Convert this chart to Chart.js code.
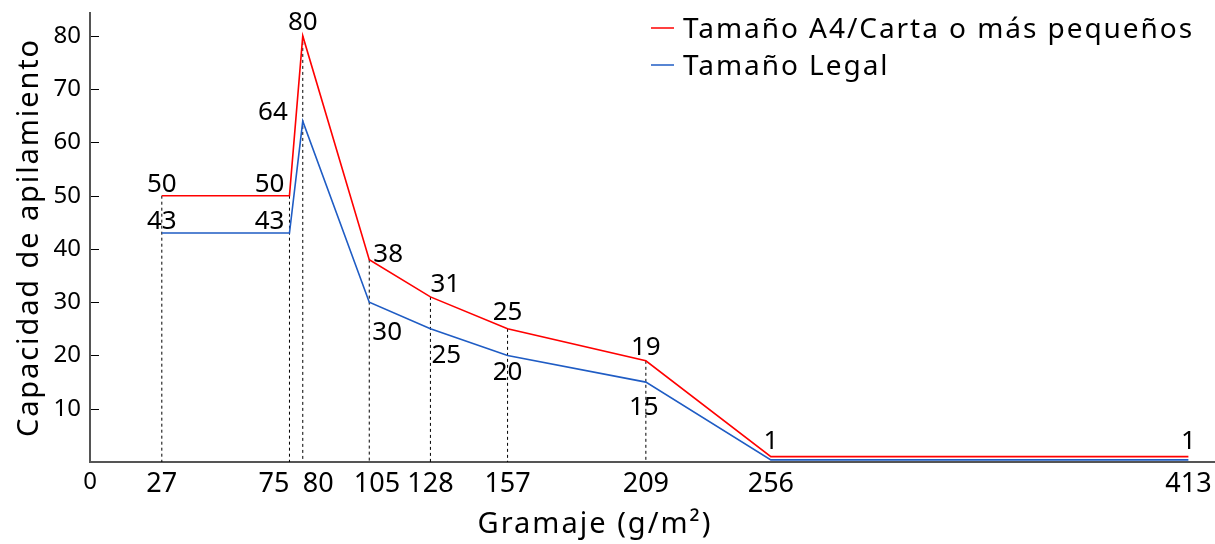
<!DOCTYPE html>
<html>
<head>
<meta charset="utf-8">
<script src="https://cdn.jsdelivr.net/npm/chart.js@4.4.1/dist/chart.umd.min.js"></script>
<style>
  body { margin: 0; background: #fff; }
  #wrap { width: 1215px; height: 544px; }
</style>
</head>
<body>
<div id="wrap"><canvas id="stack-chart" width="1215" height="544"></canvas></div>
<script>
const gramaje = [27, 75, 80, 105, 128, 157, 209, 256, 413];
const a4Carta = [50, 50, 80, 38, 31, 25, 19, 1, 1];
const legal = [43, 43, 64, 30, 25, 20, 15, 0.4, 0.4];
const xTickValues = [0, 27, 75, 80, 105, 128, 157, 209, 256, 413];
const yTickValues = [10, 20, 30, 40, 50, 60, 70, 80];
const seriesNames = ["Tamaño A4/Carta o más pequeños", "Tamaño Legal"];
const dropCount = 7; // dotted guides under the first 7 points

const FONT = "'Noto Sans', sans-serif";
const RED = "#ff0000";
const BLUE = "#1f5cc4";
const FIG = "\u2007";
// crowded x labels get pushed apart (in figure spaces, - = left)
const tickNudge = { 75: -2, 80: 2, 105: 1 };

// value label placement: [dx, dy, align, above/below]
const a4LabelPlace = [
  [0, -4, "center", "above"],
  [-5, -4, "right", "above"],
  [0, -6, "center", "above"],
  [4, 2, "left", "above"],
  [0, -5, "left", "above"],
  [0, -9, "center", "above"],
  [0, -6, "center", "above"],
  [0, -8, "center", "above"],
  [0, -8, "center", "above"],
];
const legalLabelPlace = [
  [0, -4, "center", "above"],
  [-5, -4, "right", "above"],
  [-15, -1, "right", "above"],
  [3, 19, "left", "below"],
  [1, 15, "left", "below"],
  [0, 6, "center", "below"],
  [-2, 14, "center", "below"],
  null,
  null,
];

const toPoints = (ys) => gramaje.map((x, i) => ({ x: x, y: ys[i] }));

const dropSets = gramaje.slice(0, dropCount).map((x, i) => ({
  label: "",
  data: [{ x: x, y: a4Carta[i] }, { x: x, y: 0 }],
  borderColor: "#000",
  borderWidth: 1,
  borderDash: [3, 3],
  pointRadius: 0,
  order: 5,
}));

const pointLabels = {
  id: "pointLabels",
  afterDatasetsDraw(chart) {
    const ctx = chart.ctx;
    ctx.save();
    ctx.font = "26px " + FONT;
    ctx.fillStyle = "#000";
    ctx.textBaseline = "alphabetic";
    [[0, a4LabelPlace], [1, legalLabelPlace]].forEach(([di, places]) => {
      const meta = chart.getDatasetMeta(di);
      const data = chart.data.datasets[di].data;
      meta.data.forEach((pt, i) => {
        const p = places[i];
        if (!p) return;
        ctx.textAlign = p[2];
        let y = pt.y + p[1];
        if (p[3] === "below") y += 19;
        ctx.fillText(String(data[i].y), pt.x + p[0], y);
      });
    });

    // inward tick marks on the y axis
    const ys = chart.scales.y;
    ctx.strokeStyle = "#000";
    ctx.lineWidth = 1;
    yTickValues.forEach((v) => {
      const py = Math.round(ys.getPixelForValue(v)) + 0.5;
      ctx.beginPath();
      ctx.moveTo(ys.right + 1, py);
      ctx.lineTo(ys.right + 9, py);
      ctx.stroke();
    });
    ctx.restore();
  },
  afterDraw(chart) {
    const ctx = chart.ctx;
    const area = chart.chartArea;
    ctx.save();
    ctx.fillStyle = "#000";
    ctx.textBaseline = "alphabetic";
    // legend, top right
    const lx = 651;
    [RED, BLUE].forEach((c, i) => {
      const base = 38 + i * 37;
      ctx.strokeStyle = c;
      ctx.lineWidth = 1.5;
      ctx.beginPath();
      ctx.moveTo(lx, base - 10);
      ctx.lineTo(lx + 23, base - 10);
      ctx.stroke();
      ctx.font = "28px " + FONT;
      ctx.letterSpacing = "1.95px";
      ctx.textAlign = "left";
      ctx.fillText(seriesNames[i], lx + 32, base);
    });
    // x axis title
    ctx.font = "29px " + FONT;
    ctx.letterSpacing = "2px";
    ctx.textAlign = "center";
    ctx.fillText("Gramaje (g/m²)", 595, 533);
    // y axis title
    ctx.translate(38, (area.top + area.bottom) / 2);
    ctx.rotate(-Math.PI / 2);
    ctx.letterSpacing = "1.9px";
    ctx.fillText("Capacidad de apilamiento", 0, 0);
    ctx.restore();
  },
};

new Chart(document.getElementById("stack-chart").getContext("2d"), {
  type: "line",
  data: {
    datasets: [
      {
        label: seriesNames[0],
        data: toPoints(a4Carta),
        borderColor: RED,
        borderWidth: 1.6,
        pointRadius: 0,
        order: 0,
      },
      {
        label: seriesNames[1],
        data: toPoints(legal),
        borderColor: BLUE,
        borderWidth: 1.6,
        pointRadius: 0,
        order: 1,
      },
      ...dropSets,
    ],
  },
  options: {
    responsive: false,
    animation: false,
    devicePixelRatio: 1,
    layout: { padding: { top: 13, right: 0, left: 0, bottom: 0 } },
    plugins: {
      legend: { display: false },
      tooltip: { enabled: false },
    },
    scales: {
      x: {
        type: "linear",
        min: 0,
        max: 423,
        afterBuildTicks: (axis) => {
          axis.ticks = xTickValues.map((v) => ({ value: v }));
        },
        afterFit: (axis) => {
          axis.height = 82;
          axis.paddingLeft = 0;
          axis.paddingRight = 0;
        },
        grid: { display: false, drawTicks: false },
        border: { display: true, color: "#555", width: 2 },
        ticks: {
          color: "#000",
          padding: 6,
          autoSkip: false,
          maxRotation: 0,
          font: (c) => ({ family: FONT, size: c.tick && c.tick.value === 0 ? 24 : 27 }),
          callback: (v) => {
            const n = tickNudge[v] || 0;
            const pad = FIG.repeat(Math.abs(n));
            return n < 0 ? v + pad : pad + v;
          },
        },
      },
      y: {
        min: 0,
        max: 84.3,
        afterBuildTicks: (axis) => {
          axis.ticks = yTickValues.map((v) => ({ value: v }));
        },
        afterFit: (axis) => {
          axis.width = 90;
          axis.paddingTop = 0;
          axis.paddingBottom = 0;
        },
        grid: { display: false, drawTicks: false },
        border: { display: true, color: "#555", width: 2 },
        ticks: {
          color: "#000",
          padding: 9,
          font: { family: FONT, size: 24 },
        },
      },
    },
  },
  plugins: [pointLabels],
});
</script>
</body>
</html>
